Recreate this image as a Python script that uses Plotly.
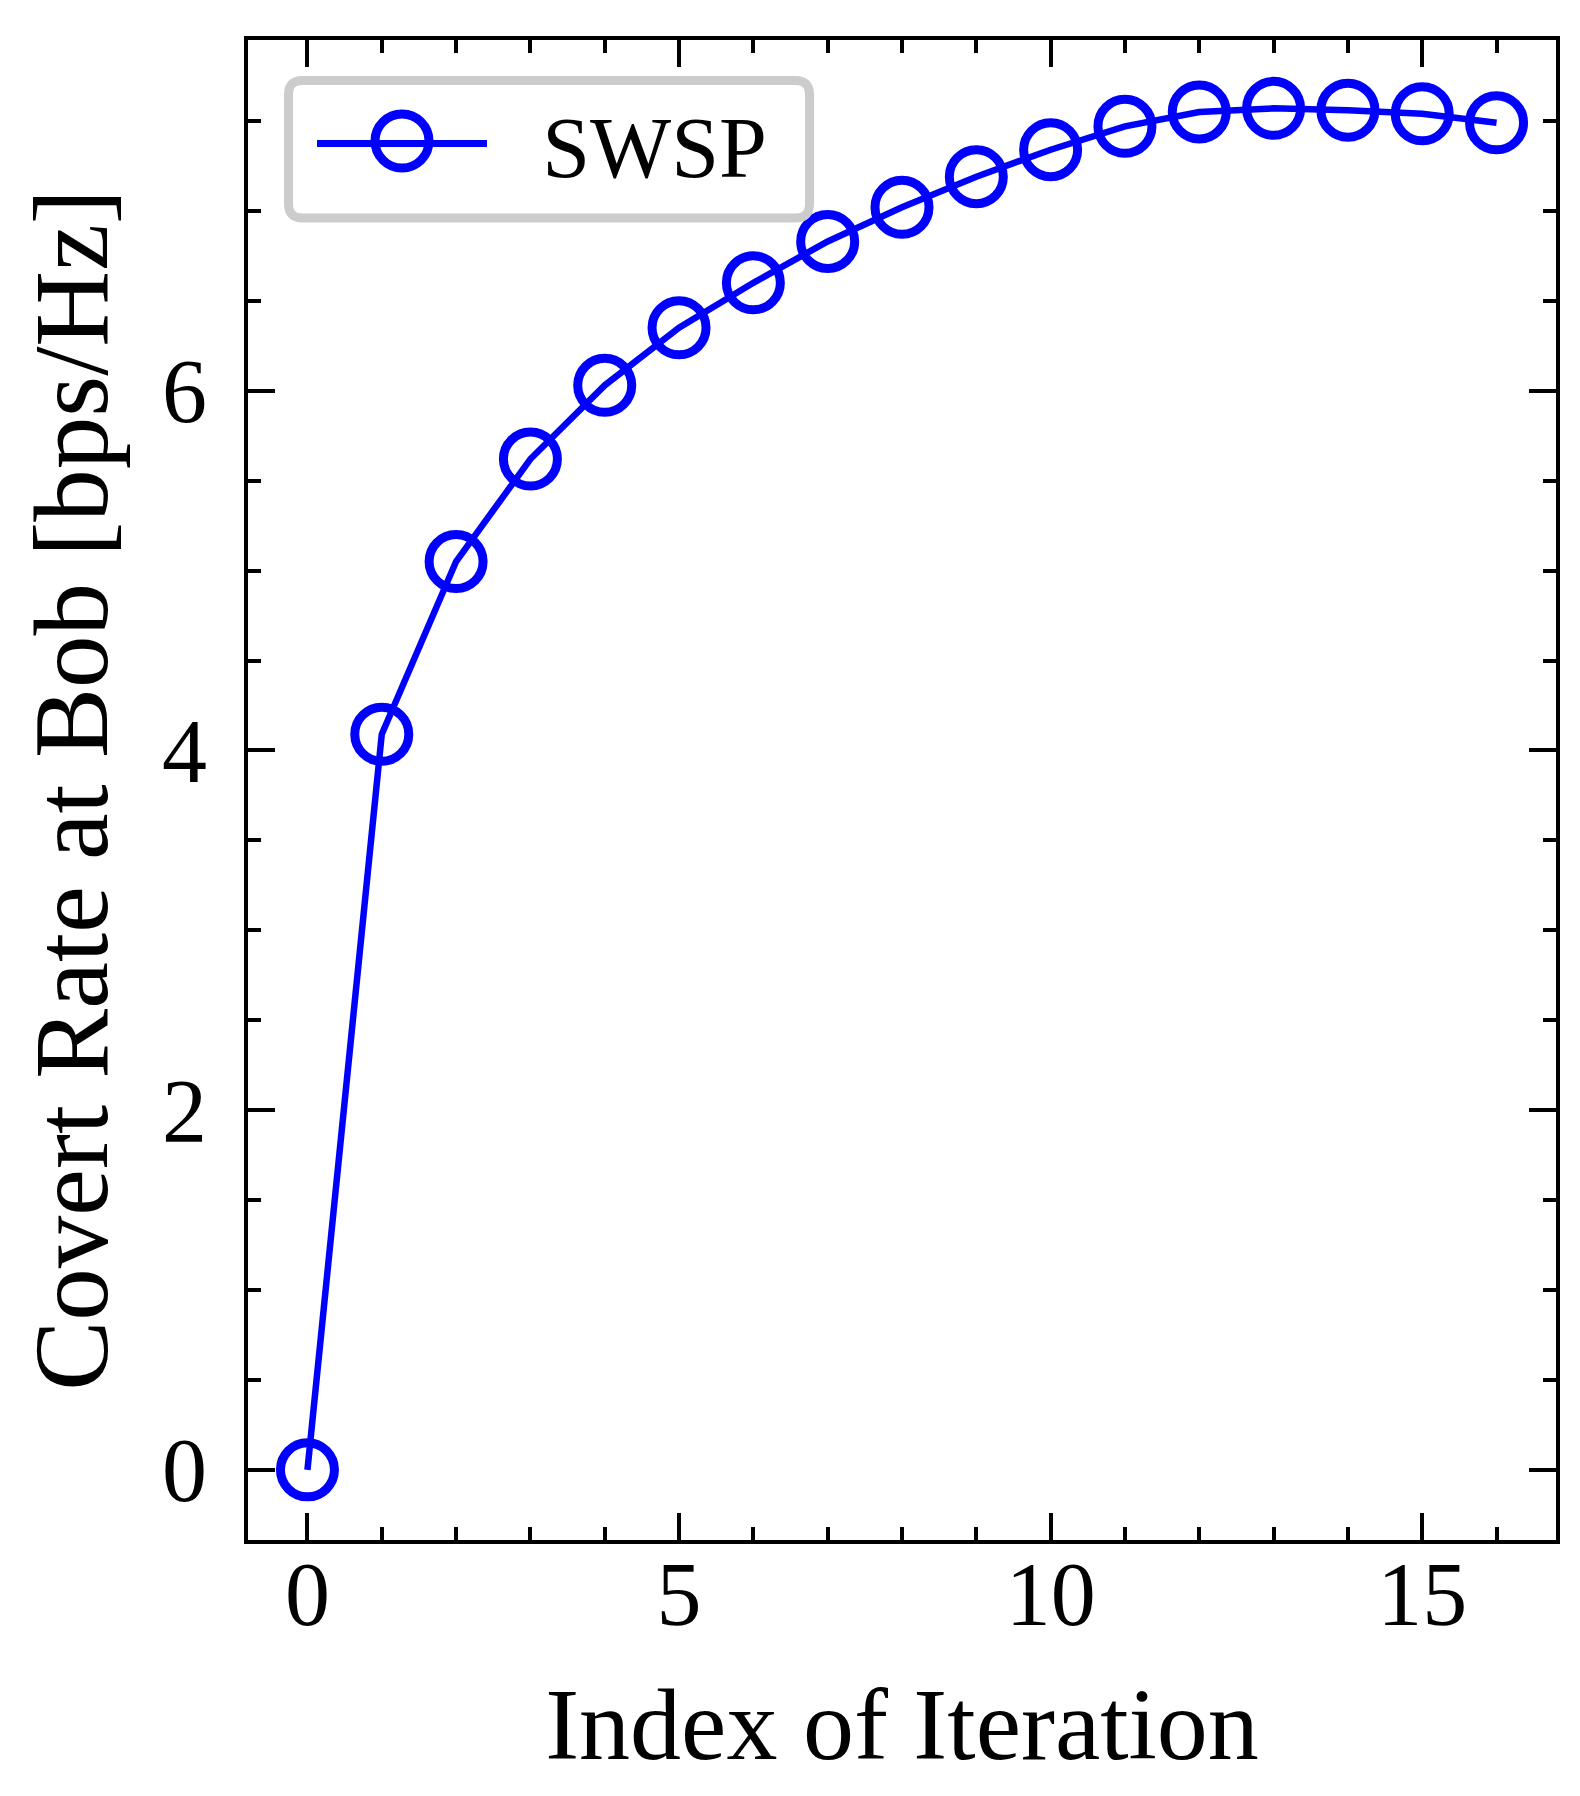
import plotly.graph_objects as go

# data:
iterations = list(range(17))
covertRate = [0.0, 4.09, 5.05, 5.62, 6.03, 6.35, 6.60, 6.83, 7.02, 7.19,
              7.34, 7.47, 7.55, 7.57, 7.56, 7.54, 7.49]
seriesName = "SWSP"
xTicks = [0, 5, 10, 15]
yTicks = [0, 2, 4, 6]

FONT = "Liberation Serif"
BLUE = "#0000ff"
NBSP = "\u00a0"
HAIR = "\u200a"

# plot area in pixels (matches the reference frame)
PLOT_L, PLOT_R, PLOT_T, PLOT_B = 240, 1548, 32, 1532
plotW = PLOT_R - PLOT_L
plotH = PLOT_B - PLOT_T

fig = go.Figure()

# main trace: line with open circles
fig.add_trace(go.Scatter(x = iterations, y = covertRate, mode = 'lines+markers', name = seriesName,
                         showlegend = False,
                         line = dict(color = BLUE, width = 6.5),
                         marker = dict(symbol = 'circle-open', size = 54, color = BLUE,
                                       line = dict(width = 9))))

# legend-only entry (plotly caps legend marker size, the big circle is added as a shape below)
fig.add_trace(go.Scatter(x = [None], y = [None], mode = 'lines',
                         name = NBSP * 2 + HAIR + seriesName + NBSP + HAIR,
                         line = dict(color = BLUE, width = 7), showlegend = True))

# axes: boxed frame, inward ticks on all sides, minor ticks
axisCommon = dict(showline = True, linecolor = 'black', linewidth = 4, mirror = 'ticks',
                  ticks = 'inside', ticklen = 27, tickwidth = 3.5, tickcolor = 'black',
                  showgrid = False, zeroline = False,
                  tickfont = dict(family = FONT, size = 90, color = 'black'))

fig.update_xaxes(axisCommon, range = [-0.8, 16.8], tickvals = xTicks,
                 ticktext = [str(v) for v in xTicks], ticklabelstandoff = -27,
                 minor = dict(dtick = 1, tick0 = 0, ticks = 'inside', ticklen = 13, tickwidth = 3.5,
                              tickcolor = 'black', showgrid = False),
                 title = dict(text = "Index of Iteration", standoff = 46,
                              font = dict(family = FONT, size = 102, color = 'black')))

fig.update_yaxes(axisCommon, range = [-0.39, 7.95], tickvals = yTicks,
                 ticktext = [str(v) for v in yTicks], ticklabelstandoff = 19,
                 minor = dict(dtick = 0.5, tick0 = 0, ticks = 'inside', ticklen = 13, tickwidth = 3.5,
                              tickcolor = 'black', showgrid = False),
                 title = dict(text = "Covert Rate at Bob [bps/Hz]", standoff = 20,
                              font = dict(family = FONT, size = 105, color = 'black')))

# legend in upper left; its frame is drawn as a rounded shape below
legendLeft, legendTop = 277, 64
fig.update_layout(showlegend = True,
                  legend = dict(x = (legendLeft - PLOT_L) / plotW, y = (PLOT_B - legendTop) / plotH,
                                xanchor = 'left', yanchor = 'top',
                                bgcolor = 'rgba(255,255,255,0)', bordercolor = 'rgba(0,0,0,0)', borderwidth = 9,
                                itemwidth = 170, indentation = 18,
                                font = dict(family = FONT, size = 86, color = 'black')))

# rounded legend frame, pixels relative to the top-left corner of the plot area
bx0, bx1, by0, by1, rad = 40.5, 561.5, -40.5, -178, 14
boxPath = ("M {a},{t} L {b},{t} Q {x1},{t} {x1},{tr} L {x1},{br} Q {x1},{bt} {b},{bt} "
           "L {a},{bt} Q {x0},{bt} {x0},{br} L {x0},{tr} Q {x0},{t} {a},{t} Z").format(
    a = bx0 + rad, b = bx1 - rad, t = by0, bt = by1, x0 = bx0, x1 = bx1, tr = by0 - rad, br = by1 + rad)
fig.add_shape(type = 'path', path = boxPath, xref = 'paper', yref = 'paper',
              xsizemode = 'pixel', ysizemode = 'pixel', xanchor = 0, yanchor = 1,
              line = dict(color = '#cccccc', width = 9), fillcolor = 'rgba(255,255,255,0.8)', layer = 'above')

# big open circle on the legend line
symX, symY = 394, 133
fig.add_shape(type = 'circle', xref = 'paper', yref = 'paper',
              xsizemode = 'pixel', ysizemode = 'pixel',
              xanchor = (symX - PLOT_L) / plotW, yanchor = (PLOT_B - symY) / plotH,
              x0 = -27, x1 = 27, y0 = -27, y1 = 27,
              line = dict(color = BLUE, width = 9), fillcolor = 'rgba(0,0,0,0)', layer = 'above')

fig.update_layout(width = 1580, height = 1796,
                  margin = dict(l = PLOT_L, r = 1580 - PLOT_R, t = PLOT_T, b = 1796 - PLOT_B, autoexpand = False),
                  plot_bgcolor = 'white', paper_bgcolor = 'white',
                  font = dict(family = FONT, color = 'black'))

fig.write_html("out.html")
